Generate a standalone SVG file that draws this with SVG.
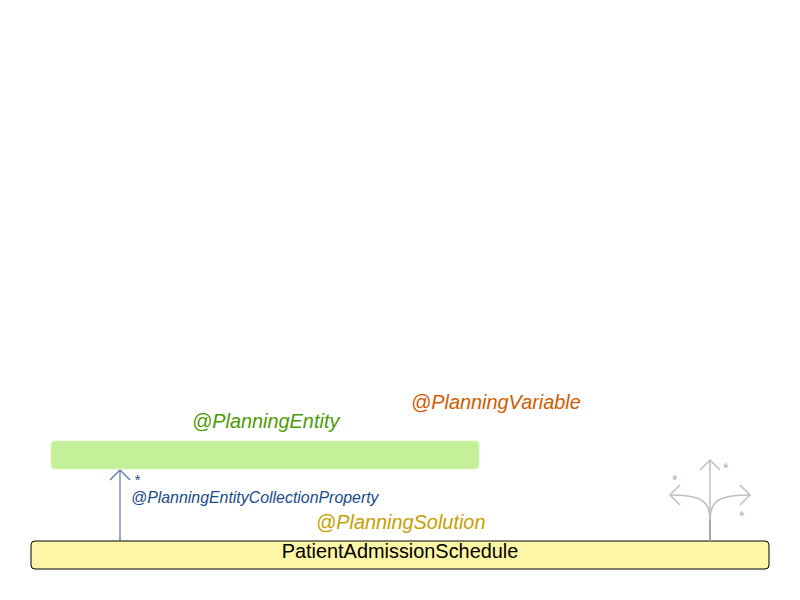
<svg xmlns="http://www.w3.org/2000/svg" width="800" height="600" viewBox="0 0 800 600">
<style>
.lbl{font-family:"Liberation Sans",Arial,sans-serif;font-style:italic}
.gray{fill:none;stroke:#c0c0c0;stroke-width:1.5}
.star{font-family:"Liberation Sans",Arial,sans-serif;font-size:14px;fill:#aaaaaa}
</style>
<rect width="800" height="600" fill="#ffffff"/>
<g id="connectors">
<line x1="120" y1="541" x2="120" y2="470" stroke="#7d93b6" stroke-width="1.5"/>
<polyline points="110,480 120,470 130,480" fill="none" stroke="#5a76a3" stroke-width="1.3"/>
<text class="lbl" x="134" y="485" font-size="15" fill="#204a87">*</text>
<text class="lbl" x="131" y="503" font-size="15.9" fill="#204a87">@PlanningEntityCollectionProperty</text>
</g>
<g id="planningEntity">
<rect x="51" y="441" width="428" height="28" rx="4" fill="#c5f09a" stroke="#d8f6b8" stroke-width="1"/>
<text class="lbl" x="192" y="428" font-size="19.9" fill="#4e9a06">@PlanningEntity</text>
</g>
<g id="planningVariable">
<text class="lbl" x="411" y="409" font-size="19.9" fill="#ce5c00">@PlanningVariable</text>
</g>
<g id="patientAdmissionSchedule">
<rect x="31" y="541" width="738" height="28" rx="4" fill="#fff5a6" stroke="#000000" stroke-width="1"/>
<text x="400" y="558" font-family="Liberation Sans,Arial,sans-serif" font-size="19.9" fill="#000000" text-anchor="middle">PatientAdmissionSchedule</text>
<text class="lbl" x="316" y="529" font-size="19.9" fill="#c4a000">@PlanningSolution</text>
</g>
<g id="icon">
<line x1="710" y1="541" x2="710" y2="515" stroke="#a8a8a8" stroke-width="2"/>
<line x1="710" y1="518" x2="710" y2="460" class="gray"/>
<polyline points="700,470 710,460 720,470" class="gray"/>
<path d="M710,520 C710,500 700,495 670,495" class="gray"/>
<polyline points="680,485 670,495 680,505" class="gray"/>
<path d="M710,520 C710,500 720,495 750,495" class="gray"/>
<polyline points="740,485 750,495 740,505" class="gray"/>
<text class="star" x="672" y="485">*</text>
<text class="star" x="723" y="473">*</text>
<text class="star" x="739" y="521">*</text>
</g>
</svg>
